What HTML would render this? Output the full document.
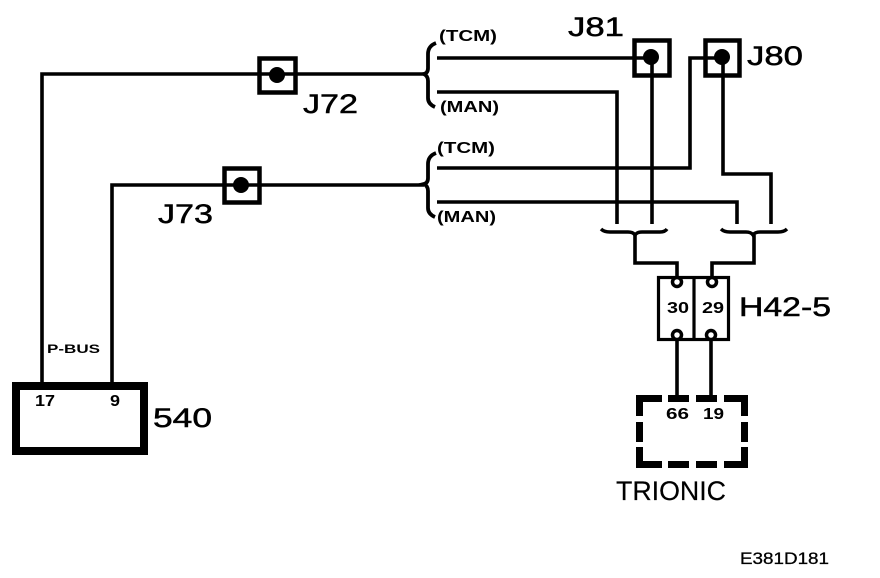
<!DOCTYPE html>
<html>
<head>
<meta charset="utf-8">
<style>
html,body{margin:0;padding:0;background:#fff;width:880px;height:578px;overflow:hidden}
svg{display:block}
text{font-family:"Liberation Sans",sans-serif;fill:#000}
.l{font-size:27px;stroke:#000;stroke-width:.5px}
.s{font-size:16px;font-weight:bold}
</style>
</head>
<body>
<svg width="880" height="578" viewBox="0 0 880 578" xmlns="http://www.w3.org/2000/svg">
<g fill="none" stroke="#000" stroke-width="3.6">
<path d="M42 383V74H424"/>
<path d="M112 383V185H424"/>
<path d="M437 58H650"/>
<path d="M437 92H617V224"/>
<path d="M652 60V224"/>
<path d="M437 168H690V58H720"/>
<path d="M723 60V174H771V224"/>
<path d="M437 202H737V224"/>
<path d="M436 43Q428 46 428 54V68Q428 73 424 74Q428 76 428 81V98Q428 104 435 107" stroke-width="3.800"/>
<path d="M436 153Q428 156 428 164V178Q428 183 424 184Q428 186 428 191V208Q428 214 435 217" stroke-width="3.800"/>
<path d="M601 229Q604 232 610 232H628Q633 232 635 235Q637 232 642 232H660Q665 232 667 229" stroke-width="3.400"/>
<path d="M721 229Q724 232 730 232H746Q751 232 753 235Q755 232 760 232H778Q784 232 787 229" stroke-width="3.400"/>
<path d="M635 235V263H677V276"/>
<path d="M754 235V263H712V276"/>
<path d="M677 340V395"/>
<path d="M711 340V395"/>
</g>
<g fill="none" stroke="#000" stroke-width="4.5">
<rect x="259.500" y="58.500" width="36" height="34"/>
<rect x="224.500" y="168.500" width="35" height="34"/>
<rect x="634.500" y="40.500" width="35" height="35"/>
<rect x="705.500" y="40.500" width="34" height="35"/>
</g>
<g fill="#000">
<circle cx="277" cy="75" r="8"/>
<circle cx="241" cy="185" r="8"/>
<circle cx="651" cy="57" r="8"/>
<circle cx="722" cy="57" r="8"/>
</g>
<rect x="16" y="386" width="128" height="65" fill="#fff" stroke="#000" stroke-width="8"/>
<g fill="none" stroke="#000" stroke-width="3.200">
<rect x="658.500" y="277.500" width="70" height="62" fill="#fff"/>
<path d="M694 277V340"/>
</g>
<g fill="#fff" stroke="#000" stroke-width="3.500">
<circle cx="677" cy="282" r="4.500"/>
<circle cx="712" cy="282" r="4.500"/>
<circle cx="677" cy="335" r="4.500"/>
<circle cx="711" cy="335" r="4.500"/>
</g>
<g fill="#000">
<path d="M636 395H662V402H643V416H636Z"/>
<path d="M748 395H724V402H741V416H748Z"/>
<path d="M636 468H662V461H643V447H636Z"/>
<path d="M748 468H724V461H741V447H748Z"/>
<rect x="668" y="395" width="21" height="7"/>
<rect x="696" y="395" width="21" height="7"/>
<rect x="668" y="461" width="21" height="7"/>
<rect x="696" y="461" width="21" height="7"/>
<rect x="636" y="422" width="7" height="20"/>
<rect x="741" y="422" width="7" height="20"/>
</g>
<text class="l" x="568" y="36" textLength="56" lengthAdjust="spacingAndGlyphs">J81</text>
<text class="l" x="747" y="65" textLength="56" lengthAdjust="spacingAndGlyphs">J80</text>
<text class="l" x="303" y="113" textLength="55" lengthAdjust="spacingAndGlyphs">J72</text>
<text class="l" x="158" y="223" textLength="55" lengthAdjust="spacingAndGlyphs">J73</text>
<text class="l" x="739" y="316" textLength="92" lengthAdjust="spacingAndGlyphs">H42-5</text>
<text class="l" x="153" y="427" textLength="59" lengthAdjust="spacingAndGlyphs">540</text>
<text class="l" x="616" y="500" textLength="110" lengthAdjust="spacingAndGlyphs" style="stroke-width:.2px">TRIONIC</text>
<text class="s" x="439" y="41" textLength="58" lengthAdjust="spacingAndGlyphs">(TCM)</text>
<text class="s" x="440" y="112" textLength="59" lengthAdjust="spacingAndGlyphs">(MAN)</text>
<text class="s" x="437" y="153" textLength="58" lengthAdjust="spacingAndGlyphs">(TCM)</text>
<text class="s" x="437" y="222" textLength="59" lengthAdjust="spacingAndGlyphs">(MAN)</text>
<text x="47" y="353" font-size="12" font-weight="bold" textLength="53" lengthAdjust="spacingAndGlyphs">P-BUS</text>
<text class="s" x="35" y="406" textLength="20" lengthAdjust="spacingAndGlyphs">17</text>
<text class="s" x="110" y="406" textLength="10" lengthAdjust="spacingAndGlyphs">9</text>
<text class="s" x="667" y="313" textLength="22" lengthAdjust="spacingAndGlyphs">30</text>
<text class="s" x="702" y="313" textLength="22" lengthAdjust="spacingAndGlyphs">29</text>
<text class="s" x="666" y="419" textLength="23" lengthAdjust="spacingAndGlyphs">66</text>
<text class="s" x="703" y="419" textLength="21" lengthAdjust="spacingAndGlyphs">19</text>
<text x="740" y="564" font-size="17" textLength="89" lengthAdjust="spacingAndGlyphs" stroke="#000" stroke-width=".3">E381D181</text>
</svg>
</body>
</html>
